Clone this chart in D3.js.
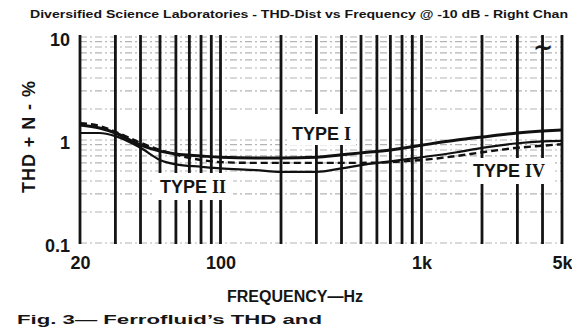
<!DOCTYPE html>
<html>
<head>
<meta charset="utf-8">
<script src="https://cdn.jsdelivr.net/npm/d3@7"></script>
<style>
  body { margin: 0; background: #fff; }
  svg { display: block; }
  text { font-family: "Liberation Sans", Arial, sans-serif; font-weight: bold; fill: #151515; }
</style>
</head>
<body>
<script>
// frequencies (Hz) and THD+N (%)
var freqs  = [20, 25, 30, 40, 50, 60, 80, 100, 150, 200, 300, 400, 500, 700, 1000, 1500, 2000, 3000, 4000, 5000];
var type1  = [1.40, 1.31, 1.17, 0.89, 0.78, 0.73, 0.70, 0.68, 0.67, 0.67, 0.68, 0.72, 0.75, 0.80, 0.89, 1.00, 1.07, 1.17, 1.22, 1.25];
var type2  = [1.17, 1.17, 1.09, 0.84, 0.64, 0.58, 0.55, 0.53, 0.51, 0.49, 0.49, 0.53, 0.57, 0.62, 0.68, 0.76, 0.84, 0.93, 0.97, 0.98];
var type4  = [1.46, 1.37, 1.20, 0.94, 0.80, 0.72, 0.64, 0.61, 0.60, 0.60, 0.60, 0.60, 0.60, 0.61, 0.64, 0.70, 0.76, 0.84, 0.88, 0.91];

var gridFreqs = [20, 30, 40, 50, 60, 70, 80, 90, 100, 200, 300, 400, 500, 600, 700, 800, 900, 1000, 2000, 3000, 4000, 5000];
var xTickVals = [20, 100, 1000, 5000];
var xTickText = ["20", "100", "1k", "5k"];
var yTickVals = [0.1, 1, 10];
var yTickText = ["0.1", "1", "10"];

var W = 572, H = 328;
var svg = d3.select('body').append('svg').attr('width', W).attr('height', H);

var x = d3.scaleLog().domain([20, 5000]).range([80, 562]);
var y = d3.scaleLog().domain([0.1, 10]).range([243, 37]);

// title strip
svg.append('text')
    .attr('x', 30).attr('y', 18)
    .attr('font-size', 10)
    .attr('textLength', 538).attr('lengthAdjust', 'spacingAndGlyphs')
    .style('font-weight', 900)
    .text('Diversified Science Laboratories - THD-Dist vs Frequency @ -10 dB - Right Chan');

// horizontal minor grid (dotted grey)
svg.append('g').selectAll('line')
    .data(y.ticks())
    .enter().append('line')
        .attr('x1', 80).attr('x2', 562)
        .attr('y1', d => y(d)).attr('y2', d => y(d))
        .attr('stroke', '#b4b4b4')
        .attr('stroke-width', 1.2)
        .attr('stroke-dasharray', '7,3,2,3');

// heavy vertical grid
svg.append('g').selectAll('line')
    .data(gridFreqs)
    .enter().append('line')
        .attr('x1', d => x(d)).attr('x2', d => x(d))
        .attr('y1', 35).attr('y2', 244)
        .attr('stroke', '#141414')
        .attr('stroke-width', 2.8);

// labels sit on white patches that cut the grid
var labels = [
    {name: 'TYPE ', num: 'I',  x: 292, y: 140, box: [288, 114, 68, 31]},
    {name: 'TYPE ', num: 'II', x: 160, y: 193, box: [155, 173, 78, 27]},
    {name: 'TYPE ', num: 'IV', x: 473, y: 177, box: [469, 158, 84, 26]}
];
labels.forEach(function(l) {
    svg.append('rect')
        .attr('x', l.box[0]).attr('y', l.box[1])
        .attr('width', l.box[2]).attr('height', l.box[3])
        .attr('fill', '#fff');
    var t = svg.append('text').attr('x', l.x).attr('y', l.y).attr('font-size', 18);
    t.append('tspan').text(l.name);
    t.append('tspan').style('font-family', '"Liberation Serif", serif').style('font-weight', 900).text(l.num);
});

// curves
var line = d3.line()
    .x(d => x(d[0]))
    .y(d => y(d[1]))
    .curve(d3.curveMonotoneX);

var series = [
    {vals: type2, w: 2.2, dash: null},
    {vals: type4, w: 2.4, dash: '7,4'},
    {vals: type1, w: 3.0, dash: null}
];
series.forEach(function(s) {
    svg.append('path')
        .attr('fill', 'none')
        .attr('stroke', '#111')
        .attr('stroke-width', s.w)
        .attr('stroke-dasharray', s.dash)
        .attr('d', line(freqs.map((f, i) => [f, s.vals[i]])));
});

// overload mark near the top right
svg.append('text').attr('x', 543).attr('y', 56)
    .attr('text-anchor', 'middle').attr('font-size', 24)
    .style('font-family', '"DejaVu Sans", sans-serif')
    .text('~');

// axes
var xAxis = d3.axisBottom(x)
    .tickValues(xTickVals)
    .tickFormat((d, i) => xTickText[i])
    .tickSize(0).tickPadding(13);
svg.append('g').attr('transform', 'translate(0,' + 243 + ')').call(xAxis)
    .call(g => g.select('.domain').remove())
    .selectAll('text').attr('font-size', 18).attr('fill', '#151515')
        .style('font-family', '"Liberation Sans", Arial, sans-serif').style('font-weight', 'bold');

var yAxis = d3.axisLeft(y)
    .tickValues(yTickVals)
    .tickFormat((d, i) => yTickText[i])
    .tickSize(0).tickPadding(10);
svg.append('g').attr('transform', 'translate(80,3)').call(yAxis)
    .call(g => g.select('.domain').remove())
    .selectAll('text').attr('font-size', 18).attr('fill', '#151515')
        .style('font-family', '"Liberation Sans", Arial, sans-serif').style('font-weight', 'bold');

// axis titles
svg.append('text')
    .attr('transform', 'translate(35,137) rotate(-90)')
    .attr('text-anchor', 'middle')
    .attr('font-size', 18)
    .attr('textLength', 112).attr('lengthAdjust', 'spacing')
    .text('THD + N - %');

svg.append('text')
    .attr('x', 295).attr('y', 302)
    .attr('text-anchor', 'middle')
    .attr('font-size', 16)
    .text('FREQUENCY\u2014Hz');

// figure caption at the bottom edge
svg.append('text')
    .attr('x', 17).attr('y', 324)
    .attr('font-size', 12)
    .attr('textLength', 305).attr('lengthAdjust', 'spacingAndGlyphs')
    .text('Fig. 3\u2014 Ferrofluid\u2019s THD and');
</script>
</body>
</html>
